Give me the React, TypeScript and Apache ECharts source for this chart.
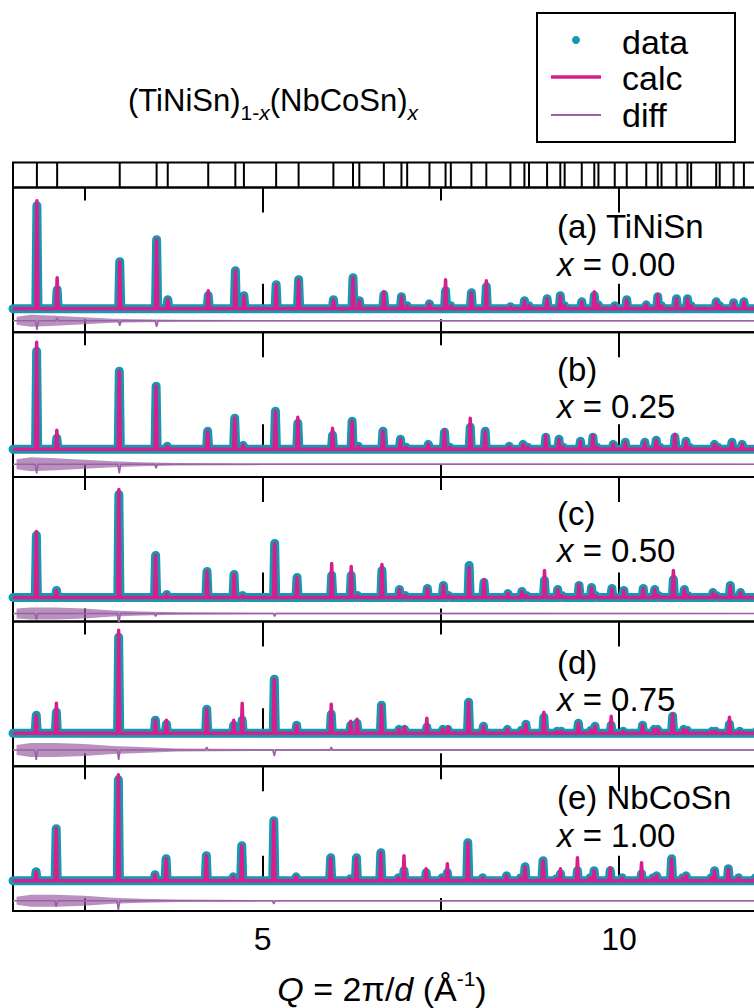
import { useEffect, useRef } from "react";
import * as echarts from "echarts";

// ---------- data ----------
const Q_MIN = 1.5;
const Q_MAX = 12.5;
const majorTicks = [5, 10];
const minorTicks = [2.5, 7.5, 12.5];
const tickLabels = ["5", "10"];

// h² + k² + l² of the allowed reflections of the half-Heusler (F-43m) cell
const hklSquares = [3, 4, 8, 11, 12, 16, 19, 20, 24, 27, 32, 35, 36, 40, 43, 44, 48, 51, 52, 56, 59, 64, 67, 68, 72, 75, 76, 80, 83, 84, 88, 91, 96, 99, 100, 104, 107, 108, 115, 116, 120, 123, 128];

// cubic lattice parameter (Å) for the tick row and each composition
const tickLattice = 5.93;
const latticeA = [5.93, 5.942, 5.954, 5.96, 5.968];

const panelNames = ["(a) TiNiSn", "(b)", "(c)", "(d)", "(e) NbCoSn"];
const compositions = ["0.00", "0.25", "0.50", "0.75", "1.00"];

// peak intensities (arb. units) at each reflection, observed and calculated
const obsA = [103, 19, 47, 69, 9, 13, 38, 13, 24, 29, 9, 31, 8, 14, 12, 3, 5, 18, 3, 16, 22, 2, 8, 3, 10, 13, 3, 7, 13, 4, 3, 9, 4, 12, 3, 10, 10, 3, 7, 3, 6, 7, 3];
const calcA = [108, 31, 47, 69, 9, 18, 38, 13, 24, 29, 9, 31, 8, 17, 12, 3, 5, 29, 3, 16, 28, 2, 8, 3, 10, 13, 3, 7, 17, 4, 3, 9, 4, 14, 3, 10, 10, 3, 7, 3, 6, 7, 3];
const obsB = [98, 11, 78, 63, 3, 18, 31, 4, 38, 26, 14, 28, 3, 18, 10, 2, 5, 17, 2, 22, 18, 3, 5, 2, 12, 10, 2, 8, 12, 2, 5, 7, 7, 9, 2, 12, 8, 2, 5, 2, 7, 5, 2];
const calcB = [107, 19, 78, 63, 3, 18, 31, 4, 38, 32, 21, 28, 3, 18, 10, 2, 5, 19, 2, 31, 18, 3, 5, 2, 14, 10, 2, 8, 14, 2, 5, 7, 7, 9, 2, 15, 8, 2, 5, 2, 7, 5, 2];
const obsC = [62, 7, 103, 42, 3, 26, 23, 2, 54, 20, 22, 22, 2, 27, 8, 2, 9, 12, 2, 32, 15, 4, 6, 2, 17, 8, 2, 12, 10, 2, 9, 7, 9, 8, 2, 18, 8, 2, 5, 2, 12, 5, 2];
const calcC = [66, 7, 108, 42, 3, 26, 23, 2, 54, 20, 34, 31, 2, 33, 8, 2, 9, 12, 2, 30, 18, 4, 6, 2, 27, 8, 2, 13, 10, 2, 9, 7, 9, 8, 2, 27, 8, 2, 5, 2, 12, 5, 2];
const obsD = [18, 21, 96, 13, 9, 24, 8, 13, 54, 8, 19, 8, 10, 28, 4, 4, 6, 4, 4, 31, 7, 4, 3, 9, 16, 2, 2, 10, 3, 7, 8, 2, 8, 4, 4, 17, 4, 3, 2, 2, 9, 2, 2];
const calcD = [18, 30, 103, 13, 13, 24, 13, 30, 54, 8, 29, 12, 14, 28, 4, 6, 15, 4, 6, 31, 7, 4, 3, 9, 21, 2, 2, 10, 3, 7, 17, 2, 8, 4, 4, 19, 4, 3, 2, 2, 16, 2, 2];
const obsE = [9, 52, 101, 6, 22, 25, 4, 35, 60, 4, 23, 2, 23, 28, 3, 10, 8, 3, 8, 38, 3, 5, 3, 14, 20, 2, 7, 10, 3, 10, 10, 3, 7, 3, 5, 22, 3, 5, 3, 10, 12, 3, 3];
const calcE = [9, 52, 106, 6, 22, 25, 4, 35, 60, 4, 23, 2, 23, 28, 3, 25, 12, 3, 17, 38, 3, 5, 3, 14, 20, 2, 12, 23, 3, 10, 13, 3, 18, 3, 5, 22, 3, 5, 3, 10, 12, 3, 3];

// difference curve: [reflection index, residual] and the noise envelope at low Q
const diffA = [[0, -9], [1, 3], [2, -5], [3, -6]];
const diffB = [[0, -9], [2, -9], [3, -4]];
const diffC = [[0, -6], [2, -11], [3, -3], [8, -3]];
const diffD = [[0, -10], [2, -10], [5, 3], [8, -6], [10, 3]];
const diffE = [[1, -6], [2, -9], [8, -3]];
const noiseQ = [1.55, 1.75, 2.1, 2.5, 2.9, 3.3, 3.8, 5.0, 12.5];
const noiseA = [4, 6, 5, 3.5, 2, 1.5, 1, 0.8, 0.6];
const noiseB = [5, 7, 6, 4.5, 3, 2, 1.2, 0.8, 0.6];
const noiseC = [5, 6, 6, 5, 3, 2, 1.2, 0.8, 0.6];
const noiseD = [5, 7, 7, 6, 4, 3, 1.5, 1, 0.8];
const noiseE = [4, 6, 6, 5, 3, 2, 1.2, 0.8, 0.6];

// vertical offset of the difference curve below each pattern
const diffOffset = [-12, -15, -16, -16.7, -20];

const obsSets = [obsA, obsB, obsC, obsD, obsE];
const calcSets = [calcA, calcB, calcC, calcD, calcE];
const diffSets = [diffA, diffB, diffC, diffD, diffE];
const noiseSets = [noiseA, noiseB, noiseC, noiseD, noiseE];

// ---------- layout / style ----------
const FONT = "'Liberation Sans', Arial, Helvetica, sans-serif";
const TEAL = "#1797b0";
const MAGENTA = "#d61f8d";
const PURPLE = "#9a62a4";
const CHART_W = 800;
const CHART_H = 1008;
const PLOT_LEFT = 13;
const PLOT_W = 784.3;
const TICK_TOP = 162.5;
const TICK_H = 25;
const PANEL_TOP = [187.5, 332.2, 476.9, 621.6, 766.3];
const PANEL_H = 144.7;
const BASE_FROM_TOP = [121.3, 117.1, 120.6, 111.7, 114.5];
// text baselines of the two annotation lines, measured from each panel's top
const LABEL_BASE = [[51, 89], [48.6, 86.3], [47.9, 85.6], [52.6, 89.2], [43, 81]];
const LABEL_SIZE = 33;
const PEAK_HALF = 0.015;

const reflections = (a: number) => hklSquares.map((n) => (2 * Math.PI * Math.sqrt(n)) / a);

function profile(qs: number[], heights: number[]) {
  const pts: number[][] = [[Q_MIN, 0]];
  qs.forEach((q, i) => {
    pts.push([q - PEAK_HALF, 0], [q, heights[i]], [q + PEAK_HALF, 0]);
  });
  pts.push([Q_MAX, 0]);
  return pts;
}

function diffCurve(qs: number[], spikes: number[][], off: number) {
  const pts: number[][] = [[Q_MIN, off]];
  spikes.forEach(([idx, v]) => {
    const q = qs[idx];
    pts.push([q - 0.02, off], [q, off + v], [q + 0.02, off]);
  });
  pts.push([Q_MAX, off]);
  return pts;
}

// text runs with sub/superscripts, laid out from measured widths
let measureCtx: CanvasRenderingContext2D | null = null;
function fontOf(size: number, italic?: boolean) {
  return `${italic ? "italic " : ""}${size}px ${FONT}`;
}
function textWidth(text: string, font: string) {
  if (!measureCtx) measureCtx = document.createElement("canvas").getContext("2d");
  measureCtx!.font = font;
  return measureCtx!.measureText(text).width;
}
type Seg = { text: string; size: number; italic?: boolean; shift: number };
function textRun(segs: Seg[], x: number, baseline: number, align: "left" | "center") {
  const widths = segs.map((s) => textWidth(s.text, fontOf(s.size, s.italic)));
  const total = widths.reduce((a, b) => a + b, 0);
  let cx = align === "center" ? x - total / 2 : x;
  return segs.map((s, k) => {
    const el = {
      type: "text",
      x: cx,
      y: baseline + s.shift - 0.35 * s.size,
      style: { text: s.text, font: fontOf(s.size, s.italic), fill: "#000", align: "left", verticalAlign: "middle" },
    };
    cx += widths[k];
    return el;
  });
}

function xAxis(grid: number, position: string, ticks: number[], length: number, labels = false) {
  return {
    type: "value",
    gridIndex: grid,
    position,
    min: Q_MIN,
    max: Q_MAX,
    axisLine: { show: false },
    splitLine: { show: false },
    axisTick: {
      show: true,
      inside: true,
      length,
      customValues: ticks,
      lineStyle: { color: "#000", width: 2 },
    },
    axisLabel: labels
      ? {
          show: true,
          customValues: ticks,
          fontSize: 32,
          fontFamily: FONT,
          color: "#000",
          margin: 12,
          formatter: (v: number) => tickLabels[majorTicks.indexOf(v)] ?? String(v),
        }
      : { show: false },
  };
}

function buildOption() {
  const grids: any[] = [
    { left: PLOT_LEFT, width: PLOT_W, top: TICK_TOP, height: TICK_H, show: true, borderColor: "#000", borderWidth: 2 },
  ];
  const xAxes: any[] = [{ type: "value", gridIndex: 0, min: Q_MIN, max: Q_MAX, show: false }];
  const yAxes: any[] = [{ type: "value", gridIndex: 0, min: 0, max: 1, show: false }];
  const series: any[] = [];
  const graphics: any[] = [];

  // reflection markers
  series.push({
    type: "custom",
    name: "reflections",
    xAxisIndex: 0,
    yAxisIndex: 0,
    silent: true,
    data: reflections(tickLattice).map((q) => [q, 0]),
    renderItem: (_p: any, api: any) => {
      const a = api.coord([api.value(0), 0]);
      const b = api.coord([api.value(0), 1]);
      return { type: "line", shape: { x1: a[0], y1: a[1], x2: b[0], y2: b[1] }, style: { stroke: "#000", lineWidth: 2 } };
    },
  });

  PANEL_TOP.forEach((top, i) => {
    const g = i + 1;
    grids.push({ left: PLOT_LEFT, width: PLOT_W, top, height: PANEL_H, show: true, borderColor: "#000", borderWidth: 2 });
    const xi = xAxes.length;
    xAxes.push(
      xAxis(g, "bottom", majorTicks, 25, i === PANEL_TOP.length - 1),
      xAxis(g, "bottom", minorTicks, 13),
      xAxis(g, "top", majorTicks, 25),
      xAxis(g, "top", minorTicks, 13)
    );
    const base = BASE_FROM_TOP[i];
    yAxes.push({ type: "value", gridIndex: g, min: -(PANEL_H - base), max: base, show: false });
    const yi = i + 1;
    const qs = reflections(latticeA[i]);
    const off = diffOffset[i];
    const amp = noiseSets[i];

    series.push(
      {
        type: "custom",
        name: "diff noise",
        xAxisIndex: xi,
        yAxisIndex: yi,
        silent: true,
        z: 1,
        data: [[Q_MIN, off]],
        renderItem: (_p: any, api: any) => {
          const up = noiseQ.map((q, k) => api.coord([q, off + amp[k]]));
          const down = noiseQ.map((q, k) => api.coord([q, off - amp[k]])).reverse();
          return { type: "polygon", shape: { points: up.concat(down) }, style: { fill: PURPLE, opacity: 0.7 } };
        },
      },
      {
        type: "line",
        name: "diff",
        xAxisIndex: xi,
        yAxisIndex: yi,
        silent: true,
        z: 2,
        showSymbol: false,
        data: diffCurve(qs, diffSets[i], off),
        lineStyle: { color: PURPLE, width: 1.6 },
      },
      {
        type: "line",
        name: "data",
        xAxisIndex: xi,
        yAxisIndex: yi,
        silent: true,
        clip: false,
        z: 3,
        showSymbol: false,
        data: profile(qs, obsSets[i]),
        lineStyle: { color: TEAL, width: 9, cap: "round", join: "round" },
      },
      {
        type: "line",
        name: "calc",
        xAxisIndex: xi,
        yAxisIndex: yi,
        silent: true,
        z: 4,
        showSymbol: false,
        data: profile(qs, calcSets[i]),
        lineStyle: { color: MAGENTA, width: 3.5, join: "round" },
      }
    );

    // panel annotation
    const [b1, b2] = LABEL_BASE[i];
    graphics.push(
      ...textRun([{ text: panelNames[i], size: LABEL_SIZE, shift: 0 }], 557, top + b1, "left"),
      ...textRun(
        [
          { text: "x", size: LABEL_SIZE, italic: true, shift: 0 },
          { text: ` = ${compositions[i]}`, size: LABEL_SIZE, shift: 0 },
        ],
        557,
        top + b2,
        "left"
      )
    );
  });

  // title with subscripts
  graphics.push(
    ...textRun(
      [
        { text: "(TiNiSn)", size: 31, shift: 0 },
        { text: "1-", size: 21, shift: 9 },
        { text: "x", size: 21, italic: true, shift: 9 },
        { text: "(NbCoSn)", size: 31, shift: 0 },
        { text: "x", size: 21, italic: true, shift: 9 },
      ],
      128,
      111,
      "left"
    )
  );

  // legend box
  graphics.push(
    { type: "rect", shape: { x: 537, y: 13, width: 198, height: 129 }, style: { fill: "#fff", stroke: "#000", lineWidth: 2 } },
    { type: "circle", shape: { cx: 576, cy: 40, r: 4 }, style: { fill: TEAL } },
    { type: "line", shape: { x1: 551, y1: 77, x2: 601, y2: 77 }, style: { stroke: MAGENTA, lineWidth: 3.5 } },
    { type: "line", shape: { x1: 551, y1: 115, x2: 601, y2: 115 }, style: { stroke: PURPLE, lineWidth: 2 } },
    { type: "text", x: 622, y: 42, style: { text: "data", font: fontOf(34), fill: "#000", verticalAlign: "middle" } },
    { type: "text", x: 622, y: 78, style: { text: "calc", font: fontOf(34), fill: "#000", verticalAlign: "middle" } },
    { type: "text", x: 622, y: 115, style: { text: "diff", font: fontOf(34), fill: "#000", verticalAlign: "middle" } }
  );

  // x-axis title with superscript
  graphics.push(
    ...textRun(
      [
        { text: "Q", size: 34, italic: true, shift: 0 },
        { text: " = 2π/", size: 34, shift: 0 },
        { text: "d", size: 34, italic: true, shift: 0 },
        { text: " (Å", size: 34, shift: 0 },
        { text: "-1", size: 21, shift: -15 },
        { text: ")", size: 34, shift: 0 },
      ],
      382,
      1001,
      "center"
    )
  );

  return {
    animation: false,
    backgroundColor: "#fff",
    grid: grids,
    xAxis: xAxes,
    yAxis: yAxes,
    series,
    graphic: graphics,
  };
}

export default function App() {
  const ref = useRef<HTMLDivElement>(null);
  useEffect(() => {
    const chart = echarts.init(ref.current!, null, { renderer: "svg" });
    chart.setOption(buildOption() as any);
    return () => chart.dispose();
  }, []);
  return (
    <div style={{ position: "fixed", left: 0, top: 0, width: 754, height: CHART_H, overflow: "hidden", background: "#fff" }}>
      <div ref={ref} style={{ width: CHART_W, height: CHART_H }} />
    </div>
  );
}
